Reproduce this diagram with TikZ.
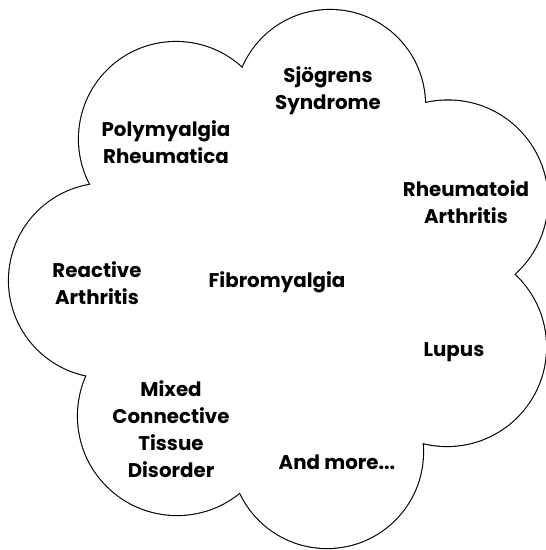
\documentclass[tikz,border=0pt]{standalone}
\usepackage{fontspec}
\setmainfont{Poppins}
\tikzset{
  lobeline/.style={draw=black, line width=2.2pt},
  lobefill/.style={fill=white},
  lbl/.style={font=\bfseries\fontsize{19.8}{27}\selectfont, align=center, text=black, inner sep=0pt}
}
\begin{document}
\begin{tikzpicture}[x=1pt,y=-1pt]
\useasboundingbox (0,0) rectangle (546,550);
\def\lobes{106/280.5/97, 176/139/97, 330/105/95, 448/200/99.5, 447/347/99, 327/452/96, 177/416/99}
\foreach \cx/\cy/\r in \lobes {\path[lobeline] (\cx,\cy) circle[radius=\r pt];}
\foreach \cx/\cy/\r in \lobes {\path[lobefill] (\cx,\cy) circle[radius=\r pt];}
\path[lobefill] (106,280.5) -- (176,139) -- (330,105) -- (448,200) -- (447,347) -- (327,452) -- (177,416) -- cycle;
\node[lbl] (sjogren) at (328,91) {Sjögrens\\Syndrome};
\node[lbl] (poly) at (166,142) {Polymyalgia\\Rheumatica};
\node[lbl] (ra) at (466,202) {Rheumatoid\\Arthritis};
\node[lbl] (reactive) at (97,283) {Reactive\\Arthritis};
\node[lbl] (fibro) at (277,282) {Fibromyalgia};
\node[lbl] (lupus) at (454,352) {Lupus};
\node[lbl] (mixed) at (171,429) {Mixed\\Connective\\Tissue\\Disorder};
\node[lbl] (more) at (337,462) {And more...};
\end{tikzpicture}
\end{document}
